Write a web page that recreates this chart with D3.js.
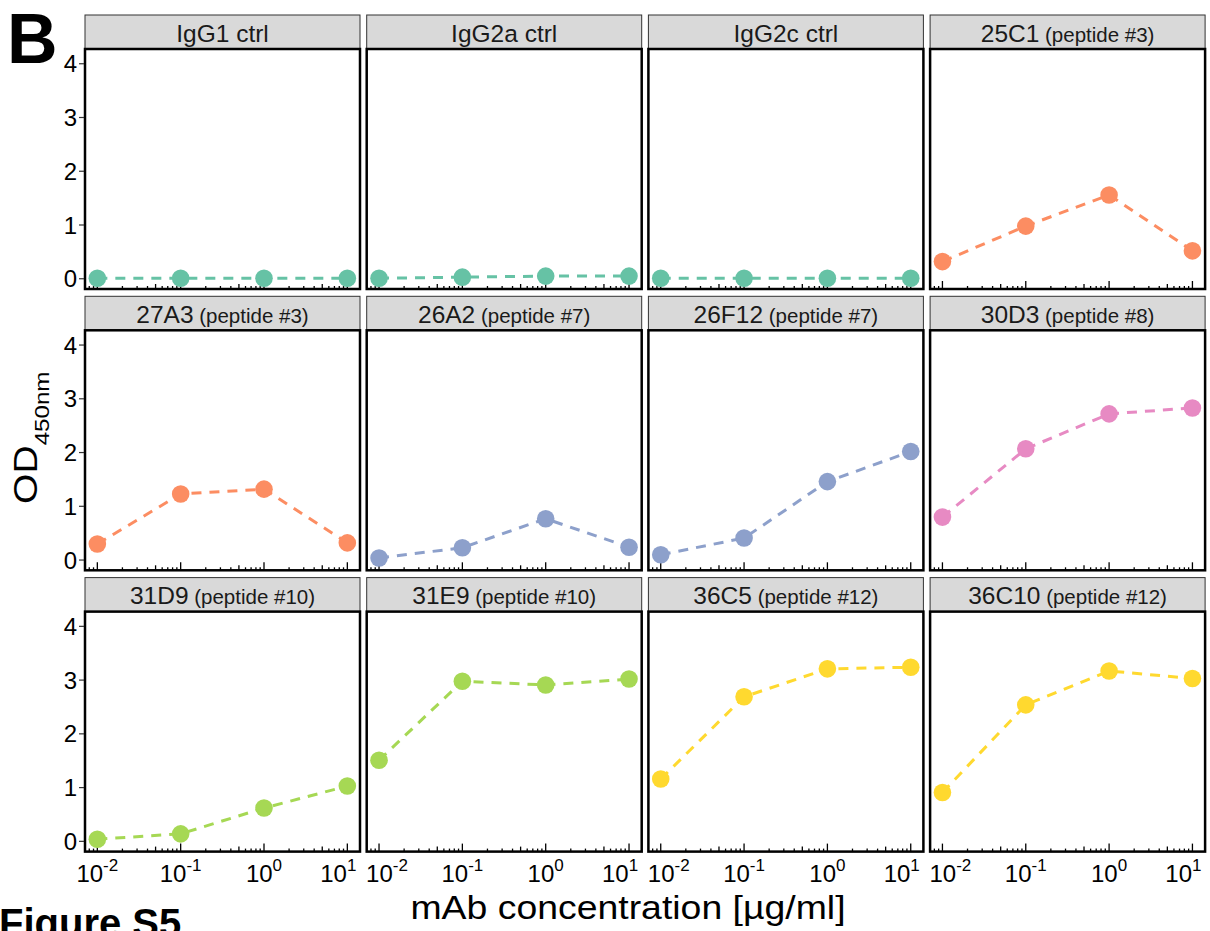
<!DOCTYPE html>
<html>
<head>
<meta charset="utf-8">
<title>OD450 facets</title>
<script src="https://cdn.jsdelivr.net/npm/d3@7"></script>
<style>
  body { margin: 0; background: #fff; }
  text { font-family: "Liberation Sans", Arial, sans-serif; }
</style>
</head>
<body>
<script>
// panel titles (main part + small peptide part)
var panelNames = ["IgG1 ctrl", "IgG2a ctrl", "IgG2c ctrl", "25C1",
                  "27A3", "26A2", "26F12", "30D3",
                  "31D9", "31E9", "36C5", "36C10"];
var panelPeptides = ["", "", "", "(peptide #3)",
                     "(peptide #3)", "(peptide #7)", "(peptide #7)", "(peptide #8)",
                     "(peptide #10)", "(peptide #10)", "(peptide #12)", "(peptide #12)"];
var concentrations = [0.01, 0.1, 1, 10];
var odValues = [
  [0.00, 0.00, 0.00, 0.00],
  [0.00, 0.02, 0.04, 0.04],
  [0.00, 0.00, 0.00, 0.00],
  [0.31, 0.97, 1.55, 0.51],
  [0.29, 1.22, 1.31, 0.31],
  [0.03, 0.22, 0.76, 0.23],
  [0.09, 0.40, 1.45, 2.01],
  [0.79, 2.06, 2.71, 2.82],
  [0.03, 0.13, 0.61, 1.02],
  [1.50, 2.97, 2.90, 3.01],
  [1.15, 2.68, 3.20, 3.23],
  [0.90, 2.53, 3.16, 3.02]
];
var panelColors = ["#66C2A5", "#66C2A5", "#66C2A5", "#FC8D62",
                   "#FC8D62", "#8DA0CB", "#8DA0CB", "#E78AC3",
                   "#A6D854", "#A6D854", "#FFD92F", "#FFD92F"];
var yTicks = [0, 1, 2, 3, 4];
var xTickExps = [-2, -1, 0, 1];

var width = 1210, height = 931;
var colX = 85, colStep = 281.7, rowY = 15, rowStep = 281.3;
var panelW = 275, stripH = 34, plotH = 240;

var x = d3.scaleLog().domain([Math.pow(10, -2.148), Math.pow(10, 1.152)]).range([0, panelW]);
var y = d3.scaleLinear().domain([-0.2, 4.265]).range([plotH, 0]);

var svg = d3.select("body").append("svg")
    .attr("width", width).attr("height", height);

var line = d3.line()
    .x(function(d) { return x(d[0]); })
    .y(function(d) { return y(d[1]); });

// log ticks inside bottom edge
var logTicks = [];
for (var e = -3; e <= 1; e++) {
  for (var k = 1; k <= 9; k++) {
    var v = k * Math.pow(10, e);
    if (v >= x.domain()[0] && v <= x.domain()[1]) logTicks.push({v: v, k: k});
  }
}

panelNames.forEach(function(name, i) {
  var r = Math.floor(i / 4), c = i % 4;
  var g = svg.append("g")
      .attr("transform", "translate(" + (colX + c * colStep) + "," + (rowY + r * rowStep) + ")");

  // strip
  g.append("rect")
      .attr("x", 0).attr("y", 0).attr("width", panelW).attr("height", stripH)
      .attr("fill", "#D9D9D9").attr("stroke", "#333").attr("stroke-width", 1);
  var st = g.append("text")
      .attr("x", panelW / 2).attr("y", 26.5)
      .attr("text-anchor", "middle").attr("fill", "#1a1a1a")
      .style("font-size", "24.5px");
  st.append("tspan").text(name);
  if (panelPeptides[i]) st.append("tspan").style("font-size", "20.5px").text(" " + panelPeptides[i]);

  var p = g.append("g").attr("transform", "translate(0," + stripH + ")");

  // log ticks
  p.selectAll("line.lt").data(logTicks).enter().append("line")
      .attr("x1", function(d) { return x(d.v); })
      .attr("x2", function(d) { return x(d.v); })
      .attr("y1", plotH)
      .attr("y2", function(d) { return plotH - (d.k === 1 ? 8 : d.k === 5 ? 5 : 3); })
      .attr("stroke", "#000").attr("stroke-width", 1.3);

  var data = concentrations.map(function(cv, j) { return [cv, odValues[i][j]]; });
  p.append("path")
      .attr("d", line(data))
      .attr("fill", "none").attr("stroke", panelColors[i])
      .attr("stroke-width", 3).attr("stroke-dasharray", "10,8");
  p.selectAll("circle").data(data).enter().append("circle")
      .attr("cx", function(d) { return x(d[0]); })
      .attr("cy", function(d) { return y(d[1]); })
      .attr("r", 8.8).attr("fill", panelColors[i]);

  // frame
  p.append("rect")
      .attr("x", 0).attr("y", 0).attr("width", panelW).attr("height", plotH)
      .attr("fill", "none").attr("stroke", "#000").attr("stroke-width", 2.5);

  if (c === 0) {
    var ya = p.append("g").call(d3.axisLeft(y).tickValues(yTicks).tickFormat(d3.format("d"))
        .tickSize(5).tickPadding(3));
    ya.select(".domain").remove();
    ya.selectAll("line").attr("stroke", "#333").attr("stroke-width", 1.2).attr("transform", "translate(-1,0)");
    ya.selectAll("text").attr("fill", "#000").style("font-size", "24px")
        .style("font-family", "'Liberation Sans', Arial, sans-serif").attr("dy", "0.36em");
  }
  if (r === 2) {
    var xl = p.append("g").attr("transform", "translate(0," + (plotH + 30) + ")");
    xTickExps.forEach(function(ex, j) {
      // edge labels nudged inward like the original figure
      var nudge = (j === 0 && c > 0) ? 8 : (j === xTickExps.length - 1 ? -9 : 0);
      var t = xl.append("text").attr("x", x(Math.pow(10, ex)) + nudge).attr("y", 0)
          .attr("text-anchor", "middle").attr("fill", "#000").style("font-size", "24px");
      t.append("tspan").text("10");
      t.append("tspan").attr("dy", -11).style("font-size", "17px").text(ex);
    });
  }
});

// axis titles
svg.append("text")
    .attr("transform", "translate(628,919) scale(1.1,1)")
    .attr("text-anchor", "middle").style("font-size", "34px").attr("fill", "#000")
    .text("mAb concentration [µg/ml]");
var od = svg.append("text")
    .attr("transform", "translate(37,504) rotate(-90) scale(1.15,1)")
    .attr("text-anchor", "start").style("font-size", "34px").attr("fill", "#000");
od.append("tspan").text("OD");
od.append("tspan").attr("dy", 12).style("font-size", "21px").text("450nm");

// panel letter and figure label
svg.append("text")
    .attr("x", 7).attr("y", 63)
    .style("font-size", "70px").style("font-weight", "bold").attr("fill", "#000")
    .text("B");
svg.append("text")
    .attr("x", -1).attr("y", 937)
    .style("font-size", "40px").style("font-weight", "bold").attr("fill", "#000")
    .text("Figure S5");
</script>
</body>
</html>
